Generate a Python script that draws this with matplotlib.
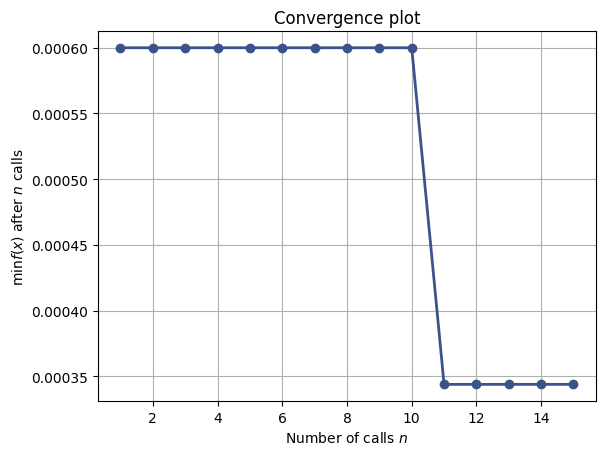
import matplotlib
matplotlib.use("Agg")
import matplotlib.pyplot as plt
import numpy as np

# data
n_calls = [1, 2, 3, 4, 5, 6, 7, 8, 9, 10, 11, 12, 13, 14, 15]
min_f = [0.000600, 0.000600, 0.000600, 0.000600, 0.000600,
         0.000600, 0.000600, 0.000600, 0.000600, 0.000600,
         0.000344, 0.000344, 0.000344, 0.000344, 0.000344]

fig = plt.figure(figsize=(6.04, 4.56), dpi=100)
ax = fig.add_axes([0.162, 0.118, 0.825, 0.812])

color = plt.cm.viridis(0.25)
ax.plot(n_calls, min_f, c=color, marker=".", markersize=12, lw=2)

ax.set_title("Convergence plot")
ax.set_xlabel("Number of calls $n$")
ax.set_ylabel(r"$\min f(x)$ after $n$ calls")
ax.grid()

fig.savefig("out.png", dpi=100)
